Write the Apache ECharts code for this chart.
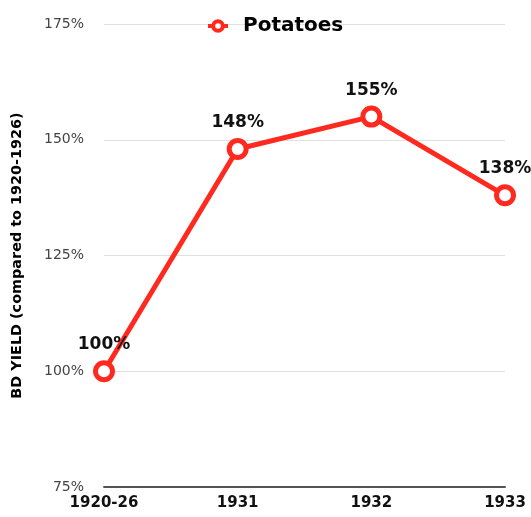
<!DOCTYPE html>
<html><head><meta charset="utf-8">
<script src="https://cdn.jsdelivr.net/npm/echarts@6/dist/echarts.min.js"></script>
<style>html,body{margin:0;padding:0;background:#fff}#c{width:531px;height:517px}</style>
</head><body><div id="c"></div>
<script>
const categories = ['1920-26', '1931', '1932', '1933'];
const potatoes = [100, 148, 155, 138];
const seriesName = 'Potatoes';
const yTicks = [75, 100, 125, 150, 175];

const FONT = 'DejaVu Sans, Liberation Sans, sans-serif';
const RED = '#ff2a1f';
const chart = echarts.init(document.getElementById('c'), null, {renderer: 'canvas'});
chart.setOption({
  animation: false,
  backgroundColor: '#fff',
  textStyle: {fontFamily: FONT},
  legend: {
    top: 11, left: 201,
    itemWidth: 20, itemHeight: 12,
    data: [{name: seriesName}],
    itemStyle: {color: '#fff', borderColor: RED, borderWidth: 4},
    lineStyle: {color: RED, width: 4},
    textStyle: {fontSize: 20, fontWeight: 'bold', color: '#000', fontFamily: FONT, padding: [0, 0, 0, 10]}
  },
  grid: {left: 104, right: 26, top: 24, bottom: 30, containLabel: false},
  xAxis: {
    type: 'category', data: categories, boundaryGap: false,
    axisLine: {lineStyle: {color: '#555', width: 2}},
    axisTick: {show: false},
    axisLabel: {color: '#111', fontSize: 15, fontWeight: 'bold', margin: 9, fontFamily: FONT}
  },
  yAxis: {
    type: 'value', min: yTicks[0], max: yTicks[yTicks.length - 1], interval: 25,
    name: 'BD YIELD (compared to 1920-1926)', nameLocation: 'middle', nameGap: 80,
    nameTextStyle: {fontSize: 14.4, fontWeight: 'bold', color: '#000', fontFamily: FONT},
    axisLine: {show: false}, axisTick: {show: false},
    axisLabel: {formatter: v => v + '%', color: '#444', fontSize: 14, margin: 20, fontFamily: FONT},
    splitLine: {lineStyle: {color: '#e0e0e0', width: 1}}
  },
  series: [{
    name: seriesName, type: 'line', data: potatoes,
    symbol: 'circle', symbolSize: 17,
    lineStyle: {color: RED, width: 5},
    itemStyle: {color: '#fff', borderColor: RED, borderWidth: 5},
    label: {show: true, position: 'top', distance: 7, formatter: p => p.value + '%',
      fontSize: 17, fontWeight: 'bold', color: '#111', fontFamily: FONT}
  }]
});
</script></body></html>
